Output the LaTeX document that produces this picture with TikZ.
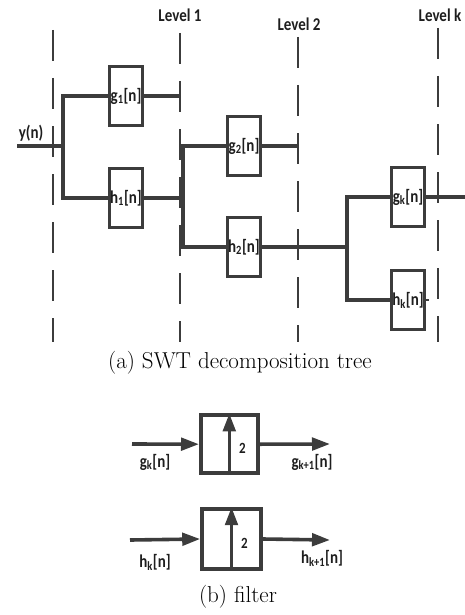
\documentclass[tikz,border=0pt]{standalone}
\usepackage{fontspec}
\newfontfamily\calfont{Carlito}
\usetikzlibrary{arrows.meta, positioning}
\definecolor{wiregray}{HTML}{3C3C3C}
\definecolor{txtgray}{HTML}{1E1E1E}
\newcommand\tallt[1]{\scalebox{1}[1.2]{#1}}

\begin{document}
\begin{tikzpicture}[
    x=1pt, y=-1pt,
    wire/.style={draw=wiregray, line width=4pt},
    lvl/.style={draw=wiregray, line width=2.6pt, dash pattern=on 31pt off 17pt},
    filt/.style={rectangle, draw=wiregray, line width=3.7pt, minimum width=33pt, minimum height=59pt, inner sep=0pt, fill=white, text=txtgray, font=\calfont\bfseries\fontsize{15}{17}\selectfont},
    upbox/.style={rectangle, draw=wiregray, line width=3.6pt, minimum width=57pt, minimum height=58pt, inner sep=0pt},
    arr/.style={wiregray, line width=3.6pt, -{Triangle[length=18pt, width=12.5pt]}},
    sig/.style={text=txtgray, font=\calfont\bfseries\fontsize{15}{17}\selectfont},
    lvllabel/.style={text=txtgray, font=\calfont\bfseries\fontsize{15}{17}\selectfont},
    capt/.style={font=\fontsize{23}{27}\selectfont},
]
\useasboundingbox (0,0) rectangle (465,615);

% Levels
\coordinate (l0) at (53,30);
\coordinate (l1) at (180,33);
\coordinate (l2) at (298,37);
\coordinate (lk) at (438,28);
\coordinate (bot) at (0,342);
\foreach \l in {l0,l1,l2,lk} \draw[lvl] (\l) -- (\l |- bot);
\node[lvllabel] (lab1) at (180,15) {\tallt{Level 1}};
\node[lvllabel] (lab2) at (299,24) {\tallt{Level 2}};
\node[lvllabel] (labk) at (440,15) {\tallt{Level k}};

% Level 1
\coordinate (yin) at (17,146);
\coordinate (b0) at (63,146);
\node[sig] (ylab) at (31,133) {\tallt{y(n)}};
\node[filt] (g1) at (126,96) {\tallt{g\textsubscript{1}[n]}};
\node[filt] (h1) at (126,198) {\tallt{h\textsubscript{1}[n]}};
\draw[wire] (yin) -- (b0);
\draw[wire] (g1.west) -| (b0) |- (h1.west);
\draw[wire] (g1.east) -- (g1.east -| l1);

% Level 2
\coordinate (b1) at (183,198);
\node[filt] (g2) at (244,146) {\tallt{g\textsubscript{2}[n]}};
\node[filt] (h2) at (244,247) {\tallt{h\textsubscript{2}[n]}};
\draw[wire] (h1.east) -- (b1);
\draw[wire] (g2.west) -| (b1) |- (h2.west);
\draw[wire] (g2.east) -- (g2.east -| l2);

% Level k
\coordinate (b2) at (347,247);
\node[filt] (gk) at (408,197) {\tallt{g\textsubscript{k}[n]}};
\node[filt] (hk) at (408,300) {\tallt{h\textsubscript{k}[n]}};
\coordinate (gkout) at (465,197);
\coordinate (hkout) at (429,300);
\draw[wire] (h2.east) -- (b2);
\draw[wire] (gk.west) -| (b2) |- (hk.west);
\draw[wire] (gk.east) -- (gkout);
\draw[wire, line width=2.2pt] (hk.east) -- (hkout);

\node[capt] (capa) at (240,363) {(a) SWT decomposition tree};

% Filter g
\node[upbox] (upg) at (229.3,444.2) {};
\coordinate (gin) at (132,444);
\coordinate (gout) at (330,444);
\draw[arr] (upg.south) -- (upg.north);
\node[sig, font=\calfont\bfseries\fontsize{13}{15}\selectfont] (twog) at ([xshift=13pt,yshift=-4pt]upg.center) {\tallt{2}};
\draw[arr] (gin) -- (upg.west);
\draw[arr] (upg.east) -- (gout);
\node[sig] (gklab) at (155,462) {\tallt{g\textsubscript{k}[n]}};
\node[sig] (gknext) at (312,462) {\tallt{g\textsubscript{k+1}[n]}};

% Filter h
\node[upbox, minimum width=59pt, minimum height=60pt] (uph) at (231.5,539) {};
\coordinate (hin) at (130,540);
\coordinate (hout) at (330,540);
\draw[arr] (uph.south) -- (uph.north);
\node[sig, font=\calfont\bfseries\fontsize{13}{15}\selectfont] (twoh) at ([xshift=13pt,yshift=-4pt]uph.center) {\tallt{2}};
\draw[arr] (hin) -- (uph.west);
\draw[arr] (uph.east) -- (hout);
\node[sig] (hklab) at (155,562) {\tallt{h\textsubscript{k}[n]}};
\node[sig] (hknext) at (322,558) {\tallt{h\textsubscript{k+1}[n]}};

\node[capt] (capb) at (238,597) {(b) filter};

\end{tikzpicture}
\end{document}
